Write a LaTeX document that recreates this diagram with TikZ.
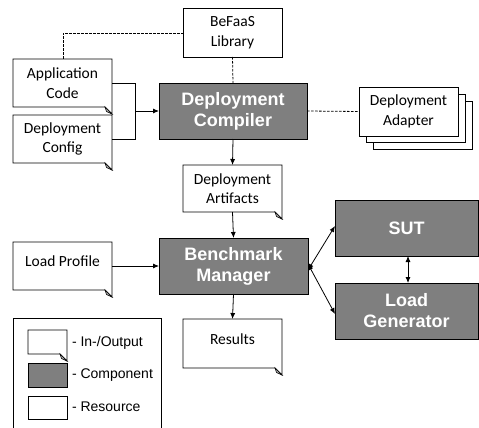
\documentclass[tikz,border=0pt]{standalone}
\usepackage{fontspec}
\setmainfont{Carlito}
\newfontfamily\arialfont{Liberation Sans}
\usetikzlibrary{arrows.meta}
\definecolor{compgray}{HTML}{7F7F7F}
\begin{document}
\begin{tikzpicture}[x=1pt,y=-1pt,
  every node/.style={inner sep=0pt, outer sep=0pt},
  line/.style={line width=0.8pt},
  arr/.style={line width=0.8pt, -{Latex[length=6pt,width=5pt]}},
  dbl/.style={line width=0.8pt, {Latex[length=6pt,width=5pt]}-{Latex[length=6pt,width=5pt]}},
  dashline/.style={line width=0.8pt, dashed, dash pattern=on 2.5pt off 1.5pt},
  doc/.style={fill=white, minimum width=99pt, minimum height=48pt, align=center, font=\fontsize{15.5}{19.5}\selectfont},
  res/.style={draw, line width=0.8pt, fill=white, minimum width=99pt, minimum height=49pt, align=center, font=\fontsize{15.5}{19.5}\selectfont},
  comp/.style={draw, line width=0.8pt, fill=compgray, text=white, align=center, font=\arialfont\bfseries\fontsize{18}{21}\selectfont},
  legtext/.style={anchor=west, font=\arialfont\fontsize{14}{16}\selectfont}
]
\useasboundingbox (0,0) rectangle (479,428);
\fill[white] (0,0) rectangle (479,428);

% outline of a document-shape node: rectangle with folded corner
\newcommand{\docoutline}[1]{%
  \draw[line width=0.8pt] (#1.north west) -- (#1.north east) -- ([yshift=-7pt]#1.south east)
     -- ([xshift=-7pt]#1.south east) -- (#1.south west) -- cycle;
  \draw[line width=0.6pt, fill=gray!60] ([xshift=-7pt]#1.south east) -- ([xshift=-5.5pt,yshift=-4.5pt]#1.south east)
     -- ([yshift=-7pt]#1.south east) -- cycle;
}

% In-/Output (document) boxes
\node[doc] (app) at (62.5,83) {Application\\Code};
\docoutline{app}
\node[doc] (cfg) at (62.5,139) {Deployment\\Config};
\docoutline{cfg}
\node[doc, minimum height=47pt] (art) at (232.5,188.5) {Deployment\\Artifacts};
\docoutline{art}
\node[doc] (prof) at (62.5,266) {};
\docoutline{prof}
\node (proftext) at (62.5,261) {\fontsize{15.5}{19.5}\selectfont Load Profile};
\node[doc, minimum height=49pt] (res) at (232.5,343.5) {};
\docoutline{res}
\node (restext) at (232.5,339) {\fontsize{15.5}{19.5}\selectfont Results};

% Resources
\node[res] (lib) at (232.5,32.5) {BeFaaS\\Library};
\draw[line width=0.8pt, fill=white] (373,101) rectangle (472,149);
\draw[line width=0.8pt, fill=white] (366,94) rectangle (465,142);
\node[res] (adapt) at (408.5,111.5) {Deployment\\Adapter};

% Components
\node[comp, minimum width=148pt, minimum height=56pt] (compiler) at (233,111) {Deployment\\Compiler};
\node[comp, minimum width=149pt, minimum height=56pt] (manager) at (233.5,266) {Benchmark\\Manager};
\node[comp, minimum width=143pt, minimum height=56pt] (sut) at (406.5,228) {SUT};
\node[comp, minimum width=143pt, minimum height=56pt] (gen) at (406.5,311) {Load\\Generator};

% dashed relations
\coordinate (k1) at (63,33);
\draw[dashline] (app.north -| k1) -- (k1) -- (lib.west |- k1);
\draw[dashline] (lib.south) -- (compiler.north);
\draw[dashline] (compiler.east) -- (adapt.west);

% inputs to compiler
\coordinate (j) at (135,111);
\draw[line] (app.east) -| (j);
\draw[line] (cfg.east) -| (j);
\draw[arr] (j) -- (compiler.west);

% main flow
\draw[arr] (compiler.south) -- (art.north);
\draw[arr] (art.south) -- (manager.north);
\draw[arr] (manager.south) -- (res.north);
\draw[arr] (prof.east) -- (manager.west);

% manager <-> SUT / Load Generator
\draw[dbl] ([yshift=-4pt]manager.east) -- ([yshift=2pt]sut.west);
\draw[dbl] ([yshift=2pt]manager.east) -- ([yshift=-3pt]gen.west);
\draw[dbl] ([xshift=1.5pt]sut.south) -- ([xshift=1.5pt]gen.north);

% legend
\draw[line] (13,430) -- (13,318) -- (161,318) -- (161,430);
\node[fill=white, minimum width=39pt, minimum height=24pt] (legdoc) at (47.5,342) {};
\docoutline{legdoc}
\node[comp, minimum width=39pt, minimum height=24pt] (legcomp) at (47.5,375) {};
\node[draw, line width=0.8pt, fill=white, minimum width=39pt, minimum height=23pt] (legres) at (47.5,407.5) {};
\node[legtext] (l1) at (72,343) {- In-/Output};
\node[legtext] (l2) at (72,375) {- Component};
\node[legtext] (l3) at (72,407) {- Resource};
\end{tikzpicture}
\end{document}
